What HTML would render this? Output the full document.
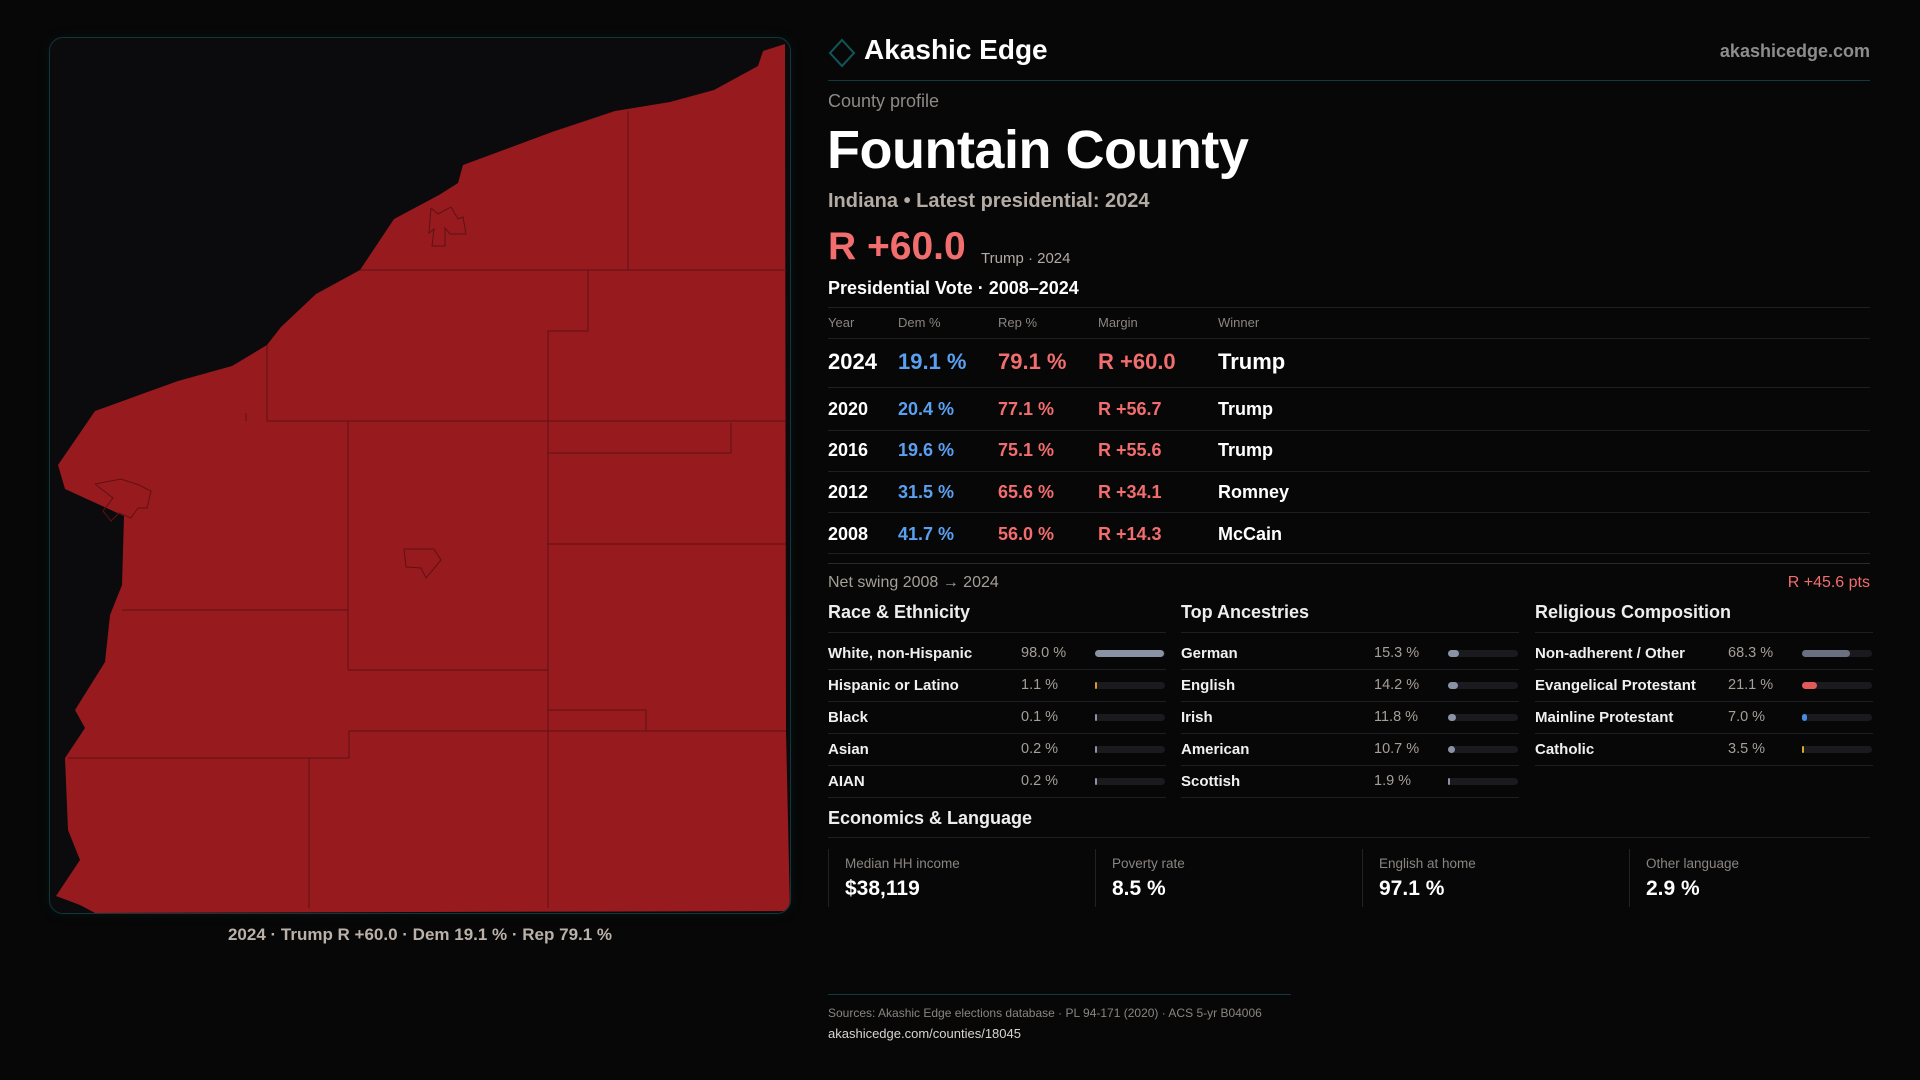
<!DOCTYPE html>
<html><head><meta charset="utf-8">
<style>
*{margin:0;padding:0;box-sizing:border-box}
body{width:1920px;height:1080px;background:#070707;font-family:"Liberation Sans",sans-serif;color:#fff;position:relative;overflow:hidden}
.a{position:absolute;white-space:nowrap}
.card{position:absolute;left:49px;top:37px;width:742px;height:877px;border:1px solid #12373b;border-radius:14px;background:#0b0a0c;overflow:hidden;box-shadow:0 0 12px rgba(20,80,90,0.15)}
.hl{position:absolute;height:1px;background:#1f1f22}
.th{font-size:13px;color:#8a8580}
.r1{font-size:22px;font-weight:bold}
.r{font-size:18px;font-weight:bold}
.dem{color:#5aa0f0}.rep{color:#f26d6d}
.sh{font-size:18px;font-weight:bold;color:#eee}
.lab{font-size:15px;font-weight:bold;color:#f0f0f0}
.val{font-size:14.5px;color:#a59f98}
.ec{position:absolute;top:849px;height:58px;border-left:1px solid #222226;padding-left:16px}
.ec .l{font-size:13.5px;color:#8a8580;margin-top:7px}
.ec .v{font-size:21px;font-weight:bold;color:#fff;margin-top:6px}
</style></head><body>
<div class="card">
<svg width="742" height="877" viewBox="49 37 742 877">
<path fill="#971a1e" d="M784,43 L762,50 L757,65 L713,89 L669,101 L614,110 L551,131 L462,164 L457,182 L438,194 L393,218 L359,269 L315,293 L280,326 L266,344 L231,365 L177,380 L94,410 L57,464 L64,488 L123,515 L121,584 L109,614 L104,661 L74,709 L84,727 L64,757 L67,829 L79,859 L55,895 L79,904 L94,912 L789,910 L785,730 Z"/>
<g stroke="#5e1214" stroke-width="1" fill="none">
<path d="M359,269 L785,269 M627,110 L627,269 M587,269 L587,330 L547,330 L547,907 M266,344 L266,420 L785,420 M547,452 L730,452 L730,422 M547,543 L785,543 M347,420 L347,669 M121,609 L347,609 M347,669 L547,669 M67,757 L348,757 L348,730 L785,730 M308,757 L308,907 M547,709 L645,709 L645,730 M245,412 L245,420"/>
<path d="M430,207 L437,213 L450,206 L457,218 L462,216 L465,233 L449,233 L444,227 L444,245 L431,245 L433,228 L428,232 L430,207 M94,483 L120,478 L138,484 L150,490 L146,507 L137,507 L130,517 L118,512 L110,520 L102,510 L112,497 L94,483 M403,548 L433,548 L440,559 L430,571 L425,577 L420,567 L405,566 L403,548"/>
</g>
</svg>
</div>
<div class="a" style="left:49px;width:742px;top:925px;text-align:center;font-size:17px;font-weight:bold;color:#b9b1aa">2024 · Trump R +60.0 · Dem 19.1 % · Rep 79.1 %</div>

<svg class="a" style="left:828px;top:38px" width="28" height="30"><path d="M14,2 L26,15 L14,28 L2,15 Z" fill="none" stroke="#12565c" stroke-width="2"/></svg>
<div class="a" style="left:864px;top:34px;font-size:28px;font-weight:bold">Akashic Edge</div>
<div class="a" style="right:50px;top:41px;font-size:18px;font-weight:bold;color:#8d8d8d">akashicedge.com</div>
<div class="hl" style="left:828px;width:1042px;top:80px;background:#12393c"></div>
<div class="a" style="left:828px;top:91px;font-size:18px;color:#8d8a86">County profile</div>
<div class="a" style="left:827px;top:119px;font-size:54px;font-weight:bold;letter-spacing:-0.5px">Fountain County</div>
<div class="a" style="left:828px;top:190px;font-size:20px;font-weight:bold;color:#b3aba4">Indiana • Latest presidential: 2024</div>
<div class="a" style="left:828px;top:225px;font-size:39px;font-weight:bold;color:#f26d6d">R +60.0</div>
<div class="a" style="left:981px;top:250px;font-size:15px;color:#b3aba4">Trump · 2024</div>
<div class="a" style="left:828px;top:278px;font-size:18px;font-weight:bold">Presidential Vote · 2008–2024</div>
<div class="hl" style="left:828px;width:1042px;top:307px"></div>
<div class="a th" style="left:828px;top:315px">Year</div><div class="a th" style="left:898px;top:315px">Dem %</div><div class="a th" style="left:998px;top:315px">Rep %</div><div class="a th" style="left:1098px;top:315px">Margin</div><div class="a th" style="left:1218px;top:315px">Winner</div>
<div class="hl" style="left:828px;width:1042px;top:338px"></div>
<div id="rows"></div>
<div class="hl" style="left:828px;width:1042px;top:563px;background:#2a2a2d"></div>
<div class="a" style="left:828px;top:574px;font-size:16px;color:#a59f98">Net swing 2008 → 2024</div>
<div class="a" style="right:50px;top:574px;font-size:16px;color:#f26d6d">R +45.6 pts</div>
<div id="demo"></div>
<div class="a sh" style="left:828px;top:808px">Economics &amp; Language</div>
<div class="hl" style="left:828px;width:1042px;top:837px"></div>
<div class="ec" style="left:828px"><div class="l">Median HH income</div><div class="v">$38,119</div></div>
<div class="ec" style="left:1095px"><div class="l">Poverty rate</div><div class="v">8.5 %</div></div>
<div class="ec" style="left:1362px"><div class="l">English at home</div><div class="v">97.1 %</div></div>
<div class="ec" style="left:1629px"><div class="l">Other language</div><div class="v">2.9 %</div></div>
<div class="hl" style="left:828px;width:463px;top:994px;background:#12393c"></div>
<div class="a" style="left:828px;top:1006px;font-size:12px;color:#8a8580">Sources: Akashic Edge elections database · PL 94-171 (2020) · ACS 5-yr B04006</div>
<div class="a" style="left:828px;top:1026px;font-size:13px;color:#d8d4d0">akashicedge.com/counties/18045</div>
<script>
const years=["2024","2020","2016","2012","2008"];
const demPct=[19.1,20.4,19.6,31.5,41.7];
const repPct=[79.1,77.1,75.1,65.6,56.0];
const margins=[60.0,56.7,55.6,34.1,14.3];
const winners=["Trump","Trump","Trump","Romney","McCain"];
const raceLabels=["White, non-Hispanic","Hispanic or Latino","Black","Asian","AIAN"];
const raceVals=[98.0,1.1,0.1,0.2,0.2];
const ancLabels=["German","English","Irish","American","Scottish"];
const ancVals=[15.3,14.2,11.8,10.7,1.9];
const relLabels=["Non-adherent / Other","Evangelical Protestant","Mainline Protestant","Catholic"];
const relVals=[68.3,21.1,7.0,3.5];
const raceColors=["#8a93a6","#d79a2a","#8a93a6","#8a93a6","#8a93a6"];
const relColors=["#6b7080","#e05a5a","#4a8ae0","#d7a82a"];
const rowTops=[349,399,440,482,524];
const R=document.getElementById('rows');
years.forEach((y,i)=>{
  const top=rowTops[i], cls=i===0?'r1':'r';
  const g=document.createElement('div');
  
  
  g.innerHTML=`<div class="a ${cls}" style="left:828px;top:${top}px">${y}</div><div class="a ${cls} dem" style="left:898px;top:${top}px">${demPct[i].toFixed(1)} %</div><div class="a ${cls} rep" style="left:998px;top:${top}px">${repPct[i].toFixed(1)} %</div><div class="a ${cls} rep" style="left:1098px;top:${top}px">R +${margins[i].toFixed(1)}</div><div class="a ${cls}" style="left:1218px;top:${top}px">${winners[i]}</div>`;
  R.appendChild(g);
  if(i<years.length-1){const l=document.createElement('div');l.className='hl';l.style.cssText=`left:828px;width:1042px;top:${i===0?387:[430,471,512][i-1]}px`;R.appendChild(l);}
});
const l5=document.createElement('div');l5.className='hl';l5.style.cssText='left:828px;width:1042px;top:553px';R.appendChild(l5);
const D=document.getElementById('demo');
function section(x,title,labels,vals,colors,key){
  const h=document.createElement('div');h.className='a sh';h.style.cssText=`left:${x}px;top:602px`;h.textContent=title;
  
  
  D.appendChild(h);
  const ln=document.createElement('div');ln.className='hl';ln.style.cssText=`left:${x}px;width:338px;top:632px`;D.appendChild(ln);
  labels.forEach((lab,i)=>{
    const t=645+i*32;
    const row=document.createElement('div');
    
    
    const w=Math.max(2,vals[i]/100*70);
    row.innerHTML=`<div class="a lab" style="left:${x}px;top:${t}px">${lab}</div><div class="a val" style="left:${x+193}px;top:${t}px">${vals[i].toFixed(1)} %</div><div class="a" style="left:${x+267}px;top:${t+5}px;width:70px;height:7px;border-radius:4px;background:#1b1b1f"></div><div class="a" style="left:${x+267}px;top:${t+5}px;width:${w}px;height:7px;border-radius:4px;background:${colors[i]}"></div><div class="hl" style="left:${x}px;width:338px;top:${t+24}px"></div>`;
    D.appendChild(row);
  });
}
section(828,"Race & Ethnicity",raceLabels,raceVals,raceColors,'race');
section(1181,"Top Ancestries",ancLabels,ancVals,ancVals.map(()=>"#8a93a6"),'ancestry');
section(1535,"Religious Composition",relLabels,relVals,relColors,'religion');
</script>
</body></html>
